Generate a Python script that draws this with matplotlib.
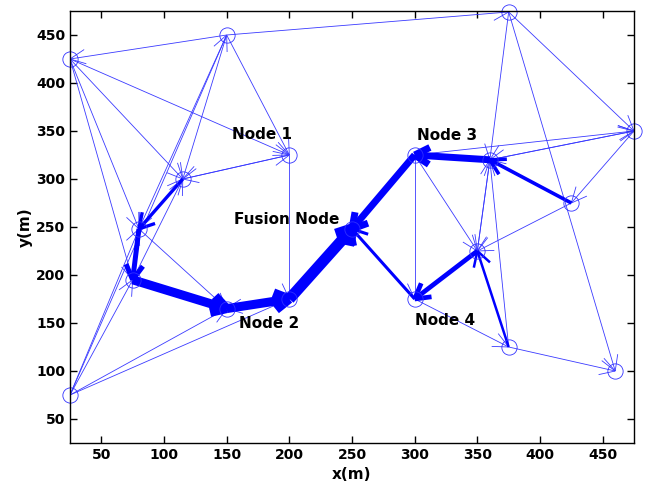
import numpy as np
import matplotlib
matplotlib.use("Agg")
import matplotlib.pyplot as plt

# node positions (m)
node_names = ["A", "B", "C", "D", "N1", "E", "F", "G", "N2L", "N2",
              "FU", "N3", "H", "I", "J", "N4", "K", "L", "M"]
node_x = [25, 150, 375, 475, 200, 115, 80, 75, 150, 200,
          250, 300, 360, 425, 350, 300, 375, 460, 25]
node_y = [425, 450, 474, 350, 325, 300, 248, 195, 165, 175,
          248, 325, 320, 275, 225, 175, 125, 100, 75]

# thin links (source -> destination)
thin_src = ["B", "B", "A", "B", "E", "N1", "A", "B", "N1", "A", "B", "A", "M", "M",
            "G", "F", "M", "M", "M", "N3", "H", "C", "D", "C", "D", "J", "K", "C",
            "N3", "I", "H", "N4", "K", "N2", "N3", "F"]
thin_dst = ["A", "C", "N1", "N1", "N1", "N2", "E", "E", "E", "F", "F", "G", "G", "F",
            "E", "N2L", "N2L", "N2", "B", "D", "D", "D", "H", "L", "I", "H", "H", "H",
            "N4", "J", "J", "K", "L", "N2L", "J", "E"]

# routing path (source -> destination, line width)
path_src = ["E", "F", "G", "N2L", "N2", "N3", "H", "I", "J", "N4", "K"]
path_dst = ["F", "G", "N2L", "N2", "FU", "FU", "N3", "H", "N4", "FU", "J"]
path_lw = [2.4, 3.6, 6.5, 6.5, 8.0, 5.0, 5.0, 2.6, 3.4, 2.2, 1.8]

label_text = ["Node 1", "Fusion Node", "Node 2", "Node 3", "Node 4"]
label_x = [178, 198, 184, 326, 324]
label_y = [346, 258, 150, 345, 153]

pos = {n: (x, y) for n, x, y in zip(node_names, node_x, node_y)}

fig = plt.figure(figsize=(6.54, 4.88), dpi=100)
ax = fig.add_axes([70 / 654, 45 / 488, 564 / 654, 432 / 488])
ax.set_xlim(25, 475)
ax.set_ylim(25, 475)


def arrow(p0, p1, lw, head_px, ang_deg, color):
    ax.plot([p0[0], p1[0]], [p0[1], p1[1]], color=color, lw=lw,
            solid_capstyle="butt")
    a = ax.transData.transform(p0)
    b = ax.transData.transform(p1)
    d = (a - b) / np.hypot(*(a - b))
    for s in (1, -1):
        t = np.radians(s * ang_deg)
        r = np.array([d[0] * np.cos(t) - d[1] * np.sin(t),
                      d[0] * np.sin(t) + d[1] * np.cos(t)])
        tip = ax.transData.inverted().transform(b + r * head_px)
        ax.plot([p1[0], tip[0]], [p1[1], tip[1]], color=color, lw=lw,
                solid_capstyle="butt")


for s, d in zip(thin_src, thin_dst):
    arrow(pos[s], pos[d], 0.6, 17, 25, "#3a3aff")

for s, d, w in zip(path_src, path_dst, path_lw):
    arrow(pos[s], pos[d], w, 17, 30, "blue")

ax.plot(node_x, node_y, "o", mfc="none", mec="#3030ff", ms=11, mew=0.6,
        clip_on=False)

for t, x, y in zip(label_text, label_x, label_y):
    ax.text(x, y, t, fontsize=11, fontweight="bold", ha="center", va="center")

ticks = [50, 100, 150, 200, 250, 300, 350, 400, 450]
ax.set_xticks(ticks)
ax.set_yticks(ticks)
ax.tick_params(direction="in", length=5, width=1, top=True, right=True,
               labelsize=10)
for lab in ax.get_xticklabels() + ax.get_yticklabels():
    lab.set_fontweight("bold")
for sp in ax.spines.values():
    sp.set_linewidth(1.0)
ax.set_xlabel("x(m)", fontsize=11, fontweight="bold", labelpad=4)
ax.set_ylabel("y(m)", fontsize=11, fontweight="bold", labelpad=2)

fig.savefig("out.png", dpi=100)
